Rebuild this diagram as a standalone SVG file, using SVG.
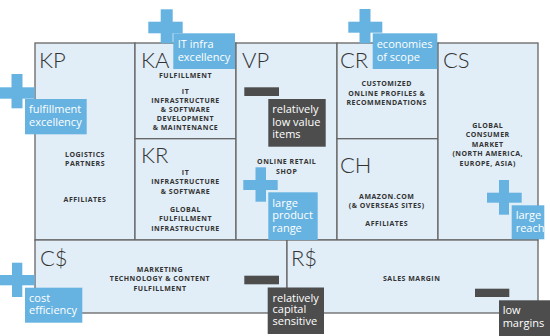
<svg xmlns="http://www.w3.org/2000/svg" width="550" height="336" viewBox="0 0 550 336">
<style>
.cell{fill:#e1edf7;stroke:#666;stroke-width:1.3}
.lbl{font-family:Lato,"Open Sans","Liberation Sans",sans-serif;font-weight:300;font-size:22px;fill:#333}
.txt{font-family:"Open Sans","Liberation Sans",sans-serif;font-weight:bold;font-size:7px;letter-spacing:0.5px;fill:#333;text-anchor:middle}
.blue{fill:#66b3e1}
.dark{fill:#4d4d4d}
.ct{font-family:"Open Sans","Liberation Sans",sans-serif;font-size:11px;fill:#fff}
</style>
<rect width="550" height="336" fill="#fff"/>
<g id="KP">
<rect class="cell" x="35" y="43" width="100" height="197"/>
<text class="lbl" x="39" y="68">KP</text>
<text class="txt"><tspan x="85" y="156.5">LOGISTICS</tspan><tspan x="85" y="166">PARTNERS</tspan><tspan x="85" y="202">AFFILIATES</tspan></text>
</g>
<g id="KA">
<rect class="cell" x="135" y="43" width="101" height="95.7"/>
<text class="lbl" x="141" y="68">KA</text>
<text class="txt"><tspan x="185.5" y="77.8">FULFILLMENT</tspan><tspan x="185.5" y="94">IT</tspan><tspan x="185.5" y="102.8">INFRASTRUCTURE</tspan><tspan x="185.5" y="111.8">&amp; SOFTWARE</tspan><tspan x="185.5" y="120.8">DEVELOPMENT</tspan><tspan x="185.5" y="129.8">&amp; MAINTENANCE</tspan></text>
</g>
<g id="KR">
<rect class="cell" x="135" y="138.7" width="101" height="101.3"/>
<text class="lbl" x="141" y="163">KR</text>
<text class="txt"><tspan x="185.5" y="174.5">IT</tspan><tspan x="185.5" y="184">INFRASTRUCTURE</tspan><tspan x="185.5" y="193.5">&amp; SOFTWARE</tspan><tspan x="185.5" y="211.8">GLOBAL</tspan><tspan x="185.5" y="221.3">FULFILLMENT</tspan><tspan x="185.5" y="230.8">INFRASTRUCTURE</tspan></text>
</g>
<g id="VP">
<rect class="cell" x="236" y="43" width="101" height="197"/>
<text class="lbl" x="242" y="68">VP</text>
<text class="txt"><tspan x="286.7" y="164.2">ONLINE RETAIL</tspan><tspan x="286.7" y="173.5">SHOP</tspan></text>
</g>
<g id="CR">
<rect class="cell" x="337" y="43" width="101" height="95.7"/>
<text class="lbl" x="340" y="68">CR</text>
<text class="txt"><tspan x="386.7" y="85.8">CUSTOMIZED</tspan><tspan x="386.7" y="95.8">ONLINE PROFILES &amp;</tspan><tspan x="386.7" y="104.8">RECOMMENDATIONS</tspan></text>
</g>
<g id="CH">
<rect class="cell" x="337" y="138.7" width="101" height="101.3"/>
<text class="lbl" x="340" y="173">CH</text>
<text class="txt"><tspan x="386.7" y="198.5">AMAZON.COM</tspan><tspan x="386.7" y="208">(&amp; OVERSEAS SITES)</tspan><tspan x="386.7" y="225.8">AFFILIATES</tspan></text>
</g>
<g id="CS">
<rect class="cell" x="438" y="43" width="100" height="197"/>
<text class="lbl" x="443" y="68">CS</text>
<text class="txt"><tspan x="487.7" y="127.5">GLOBAL</tspan><tspan x="487.7" y="137">CONSUMER</tspan><tspan x="487.7" y="146.5">MARKET</tspan><tspan x="487.7" y="156">(NORTH AMERICA,</tspan><tspan x="487.7" y="165.5">EUROPE, ASIA)</tspan></text>
</g>
<g id="Cost">
<rect class="cell" x="35" y="240" width="252" height="73"/>
<text class="lbl" x="40" y="266">C$</text>
<text class="txt"><tspan x="160" y="271.8">MARKETING</tspan><tspan x="160" y="281.2">TECHNOLOGY &amp; CONTENT</tspan><tspan x="160" y="290.8">FULFILLMENT</tspan></text>
</g>
<g id="Revenue">
<rect class="cell" x="287" y="240" width="251" height="73"/>
<text class="lbl" x="291" y="266">R$</text>
<text class="txt"><tspan x="411.7" y="281.2">SALES MARGIN</tspan></text>
</g>
<g id="callout-it-infra">
<rect class="blue" x="160.7" y="9.3" width="12" height="34"/>
<rect class="blue" x="148.3" y="21.7" width="34.4" height="11.6"/>
<rect class="blue" x="173.3" y="33.3" width="61.7" height="35.7"/>
<text class="ct"><tspan x="177.7" y="48.3">IT infra</tspan><tspan x="177.7" y="61">excellency</tspan></text>
</g>
<g id="callout-fulfillment">
<rect class="blue" x="11.5" y="74" width="11" height="34.3"/>
<rect class="blue" x="0" y="87.3" width="34.7" height="11.4"/>
<rect class="blue" x="25" y="99" width="61.7" height="35.3"/>
<text class="ct"><tspan x="29" y="113.3">fulfillment</tspan><tspan x="29" y="126">excellency</tspan></text>
</g>
<g id="callout-economies">
<rect class="blue" x="359.5" y="9" width="11" height="34.3"/>
<rect class="blue" x="348.3" y="21.7" width="34" height="11"/>
<rect class="blue" x="372.7" y="33.3" width="64.6" height="35.7"/>
<text class="ct"><tspan x="376.7" y="47.7">economies</tspan><tspan x="376.7" y="60.7">of scope</tspan></text>
</g>
<g id="callout-low-value">
<rect class="dark" x="244.3" y="87.3" width="34.7" height="8.7"/>
<rect class="dark" x="268.3" y="99" width="57.4" height="47.7"/>
<text class="ct"><tspan x="272.3" y="113.3">relatively</tspan><tspan x="272.3" y="125.7">low value</tspan><tspan x="272.3" y="137.7">items</tspan></text>
</g>
<g id="callout-product-range">
<rect class="blue" x="255.5" y="167.3" width="10.5" height="34.4"/>
<rect class="blue" x="243.3" y="180" width="34.4" height="10"/>
<rect class="blue" x="268.3" y="192.3" width="49.4" height="47.7"/>
<text class="ct"><tspan x="272.3" y="206.7">large</tspan><tspan x="272.3" y="219.3">product</tspan><tspan x="272.3" y="231.7">range</tspan></text>
</g>
<g id="callout-large-reach">
<rect class="blue" x="499" y="180" width="10" height="34.7"/>
<rect class="blue" x="487" y="192.7" width="34.7" height="10"/>
<rect class="blue" x="511.7" y="205.3" width="32.6" height="34"/>
<text class="ct"><tspan x="515.7" y="219.3">large</tspan><tspan x="515.7" y="231.7">reach</tspan></text>
</g>
<g id="callout-capital">
<rect class="dark" x="244.3" y="275.7" width="34.7" height="8.6"/>
<rect class="dark" x="267.7" y="287.5" width="56.3" height="46.5"/>
<text class="ct"><tspan x="272.5" y="301.7">relatively</tspan><tspan x="272.5" y="313.3">capital</tspan><tspan x="272.5" y="325">sensitive</tspan></text>
</g>
<g id="callout-cost-efficiency">
<rect class="blue" x="12" y="262.7" width="10.3" height="34.3"/>
<rect class="blue" x="0" y="275" width="34.7" height="10.3"/>
<rect class="blue" x="25" y="287.7" width="57.3" height="35"/>
<text class="ct"><tspan x="29" y="301.7">cost</tspan><tspan x="29" y="314.3">efficiency</tspan></text>
</g>
<g id="callout-low-margins">
<rect class="dark" x="475" y="288.7" width="34.3" height="8.3"/>
<rect class="dark" x="499" y="300.3" width="51" height="35.7"/>
<text class="ct"><tspan x="502.7" y="314.3">low</tspan><tspan x="502.7" y="326.7">margins</tspan></text>
</g>
</svg>
